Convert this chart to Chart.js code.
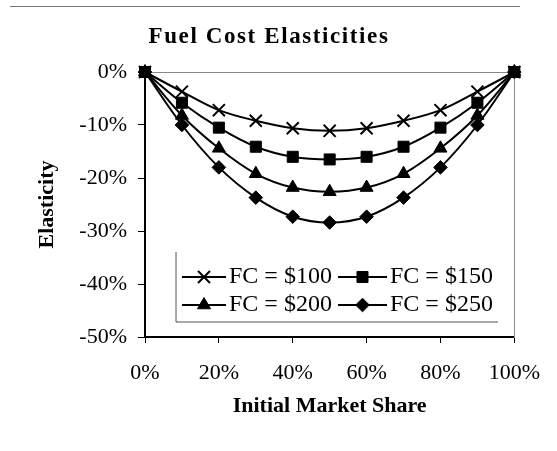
<!DOCTYPE html>
<html>
<head>
<meta charset="utf-8">
<script src="https://cdn.jsdelivr.net/npm/chart.js@4.4.1/dist/chart.umd.min.js"></script>
<style>
  html, body { margin: 0; padding: 0; background: #fff; }
  #wrap { width: 557px; height: 451px; }
</style>
</head>
<body>
<div id="wrap"><canvas id="chartcanvas"></canvas></div>
<script>
// initial market share (%), x axis
const shares = [0, 10, 20, 30, 40, 50, 60, 70, 80, 90, 100];
// elasticities (%)
const fc100 = [0, -3.7, -7.2, -9.2, -10.6, -11.1, -10.6, -9.2, -7.2, -3.7, 0];
const fc150 = [0, -5.8, -10.5, -14.1, -16.0, -16.5, -16.0, -14.1, -10.5, -5.8, 0];
const fc200 = [0, -8.2, -14.4, -19.2, -21.8, -22.6, -21.8, -19.2, -14.4, -8.2, 0];
const fc250 = [0, -10.0, -18.0, -23.7, -27.3, -28.4, -27.3, -23.7, -18.0, -10.0, 0];
const seriesLabels = ['FC = $100', 'FC = $150', 'FC = $200', 'FC = $250'];
const markerStyles = ['crossRot', 'rect', 'triangle', 'rectRot'];
const chartTitle = 'Fuel Cost Elasticities';

const serif = "'Liberation Serif', 'Times New Roman', serif";
Chart.defaults.font.family = serif;
Chart.defaults.color = '#000';

function setData(x, y) {
  let data = [];
  for (var i = 0; i < x.length; i++) {
    data.push({x: x[i], y: y[i]});
  }
  return data;
}

const markerRadius = [8.5, 7.8, 7.5, 6.8];
const datasets = [fc100, fc150, fc200, fc250].map((vals, i) => ({
  label: seriesLabels[i],
  data: setData(shares, vals),
  borderColor: '#000',
  backgroundColor: '#000',
  borderWidth: 2,
  pointStyle: markerStyles[i],
  pointRadius: markerRadius[i],
  pointBorderWidth: i === 0 ? 2 : 1,
  tension: 0.35,
  clip: false,
}));

// title (letter spaced like the scan) and a legend that sits inside the plot
const extras = {
  id: 'extras',
  beforeDraw(chart) {
    // thin frame line along the top of the page
    const ctx = chart.ctx;
    ctx.save();
    ctx.strokeStyle = '#777';
    ctx.lineWidth = 1;
    ctx.beginPath();
    ctx.moveTo(10, 6.5);
    ctx.lineTo(520, 6.5);
    ctx.stroke();
    ctx.restore();
  },
  afterDraw(chart) {
    const ctx = chart.ctx;
    const a = chart.chartArea;

    ctx.save();
    ctx.fillStyle = '#000';
    ctx.font = 'bold 23px ' + serif;
    ctx.letterSpacing = '1.6px';
    ctx.textAlign = 'center';
    ctx.textBaseline = 'middle';
    ctx.fillText(chartTitle, 269, 37);
    ctx.restore();

    const left = a.left + 31, top = a.top + 180, bottom = a.top + 250, right = a.left + 353;
    ctx.save();
    ctx.strokeStyle = '#555';
    ctx.lineWidth = 1;
    ctx.beginPath();
    ctx.moveTo(left, top);
    ctx.lineTo(left, bottom);
    ctx.lineTo(right, bottom);
    ctx.stroke();

    const rowY = [a.top + 205, a.top + 233];
    const lineX = [[a.left + 37, a.left + 81], [a.left + 193, a.left + 242]];
    const textX = [a.left + 84, a.left + 245];
    chart.data.datasets.forEach((ds, i) => {
      const col = i % 2, row = Math.floor(i / 2);
      const y = rowY[row];
      ctx.strokeStyle = '#000';
      ctx.fillStyle = '#000';
      ctx.lineWidth = 2;
      ctx.beginPath();
      ctx.moveTo(lineX[col][0], y);
      ctx.lineTo(lineX[col][1], y);
      ctx.stroke();
      ctx.lineWidth = ds.pointBorderWidth;
      Chart.helpers.drawPoint(ctx, {
        pointStyle: ds.pointStyle, radius: ds.pointRadius, rotation: 0, borderWidth: ds.pointBorderWidth
      }, (lineX[col][0] + lineX[col][1]) / 2, y);
      ctx.font = '24px ' + serif;
      ctx.textAlign = 'left';
      ctx.textBaseline = 'middle';
      ctx.fillText(ds.label, textX[col], y);
    });
    ctx.restore();
  }
};

const ctx = document.getElementById('chartcanvas').getContext('2d');
const chart = new Chart(ctx, {
  type: 'line',
  data: { datasets: datasets },
  options: {
    responsive: true,
    maintainAspectRatio: false,
    animation: false,
    layout: { padding: { left: 15, right: 0, top: 72, bottom: 0 } },
    scales: {
      x: {
        type: 'linear', position: 'bottom', min: 0, max: 100,
        ticks: { stepSize: 20, padding: 17, maxRotation: 0, font: { size: 22 }, callback: v => v + '%' },
        grid: { drawOnChartArea: false, tickLength: 6, color: '#000' },
        border: { display: true, color: '#000', width: 2 },
        title: { display: true, text: 'Initial Market Share', font: { size: 22, weight: 'bold' }, padding: { top: 0, bottom: 31 } },
        afterFit: s => { s.height = 114; }
      },
      y: {
        type: 'linear', position: 'left', min: -50, max: 0,
        ticks: { stepSize: 10, padding: 11, font: { size: 22 }, callback: v => v + '%' },
        grid: { drawOnChartArea: false, tickLength: 7, color: '#000' },
        border: { display: true, color: '#000', width: 2 },
        title: { display: true, text: 'Elasticity', font: { size: 22, weight: 'bold' }, padding: { top: 19, bottom: 0 } },
        afterFit: s => { s.width = 130; }
      },
      y2: {
        type: 'linear', position: 'right', min: -50, max: 0,
        ticks: { display: false },
        grid: { drawOnChartArea: false, drawTicks: false },
        border: { display: true, color: '#888', width: 1, dash: [2, 2] },
        afterFit: s => { s.width = 40; }
      },
      x2: {
        type: 'linear', position: 'top', min: 0, max: 100,
        ticks: { display: false },
        grid: { drawOnChartArea: false, drawTicks: false },
        border: { display: true, color: '#888', width: 1, dash: [2, 2] },
        afterFit: s => { s.height = 0; }
      }
    },
    plugins: {
      title: { display: false },
      legend: { display: false },
      tooltip: { enabled: false }
    }
  },
  plugins: [extras]
});
</script>
</body>
</html>
